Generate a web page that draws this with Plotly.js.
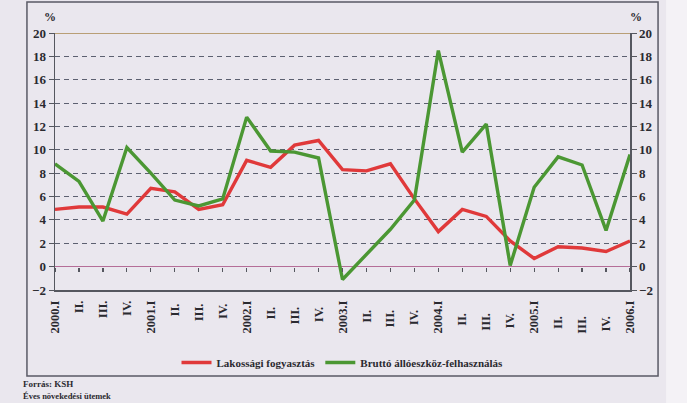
<!DOCTYPE html>
<html>
<head>
<meta charset="utf-8">
<script src="https://cdn.plot.ly/plotly-3.0.1.min.js"></script>
<style>html,body{margin:0;padding:0;background:#eae7ee;}#chart{width:687px;height:403px;}</style>
</head>
<body>
<div id="chart"></div>
<script>
const quarters = ["2000.I","II.","III.","IV.","2001.I","II. ","III. ","IV. ","2002.I","II.  ","III.  ","IV.  ","2003.I","II.   ","III.   ","IV.   ","2004.I","II.    ","III.    ","IV.    ","2005.I","II.     ","III.     ","IV.     ","2006.I"];
const lakossagi = [4.9,5.1,5.1,4.5,6.7,6.4,4.9,5.3,9.1,8.5,10.4,10.8,8.3,8.2,8.8,5.8,3.0,4.9,4.3,2.2,0.7,1.7,1.6,1.3,2.2];
const brutto = [8.8,7.3,3.9,10.2,8.0,5.7,5.2,5.8,12.8,9.9,9.8,9.3,-1.1,1.0,3.2,5.7,18.5,9.8,12.2,0.1,6.8,9.4,8.7,3.1,9.6];
const seriesNames = ["Lakossági fogyasztás","Bruttó állóeszköz-felhasználás"];
const yTicks = [-2,0,2,4,6,8,10,12,14,16,18,20];

const serif = "Liberation Serif, Times New Roman, serif";
const ink = "#2a2a30";
const idx = quarters.map((q,i)=>i);

const traces = [
  {x: idx, y: lakossagi, type:"scatter", mode:"lines", name: seriesNames[0],
   line:{color:"#e0393a", width:3.4}},
  {x: idx, y: brutto, type:"scatter", mode:"lines", name: seriesNames[1],
   line:{color:"#4b9733", width:3.4}},
  {x: idx, y: lakossagi, type:"scatter", mode:"lines", xaxis:"x2", yaxis:"y2",
   showlegend:false, hoverinfo:"skip", line:{width:0, color:"rgba(0,0,0,0)"}}
];

const W = 574, H = 257, L = 55, T = 33;
const px = v => (v - L)/W;
const py = v => (T + H - v)/H;

const layout = {
  width: 687, height: 403,
  margin: {l: L, r: 687-630, t: T, b: 403-290},
  paper_bgcolor: "#eae7ee",
  plot_bgcolor: "#eae7ee",
  font: {family: serif, size: 12, color: ink, weight: "bold"},
  showlegend: true,
  legend: {orientation: "h", x: 0.5, xanchor: "center", y: py(348), yanchor: "top",
           font: {family: serif, size: 11, color: ink, weight: "bold"},
           bgcolor: "rgba(0,0,0,0)", itemwidth: 30, tracegroupgap: 0},
  xaxis: {range: [0, 24], tickmode: "array", tickvals: idx, ticktext: quarters,
          tickangle: -90, ticks: "", showgrid: false, zeroline: false,
          ticklabelstandoff: 4,
          showline: true, linecolor: "#55575f", linewidth: 1.5,
          tickfont: {family: serif, size: 12.5, color: ink, weight: "bold"}},
  xaxis2: {range: [0, 24], overlaying: "x", anchor: "free", position: 2/22,
           tickmode: "array", tickvals: idx, ticks: "outside", ticklen: 4,
           tickcolor: "#55575f", tickwidth: 1.2,
           showticklabels: false, showgrid: false, zeroline: false, showline: false},
  yaxis: {range: [-2, 20], tickmode: "array", tickvals: yTicks,
          ticks: "outside", ticklen: 5, tickcolor: "#55575f",
          showgrid: true, gridcolor: "#5c6070", griddash: "5px,4px", gridwidth: 1,
          zeroline: true, zerolinecolor: "#b56e98", zerolinewidth: 1.5,
          showline: true, linecolor: "#55575f", linewidth: 1.5,
          tickfont: {family: serif, size: 13, color: ink, weight: "bold"}},
  yaxis2: {range: [-2, 20], overlaying: "y", side: "right", anchor: "x",
           tickmode: "array", tickvals: yTicks,
           ticks: "outside", ticklen: 5, tickcolor: "#55575f",
           showgrid: false, zeroline: false,
           showline: true, linecolor: "#55575f", linewidth: 1.5,
           tickfont: {family: serif, size: 13, color: ink, weight: "bold"}},
  shapes: [
    {type: "rect", xref: "paper", yref: "paper", x0: px(665), x1: px(700), y0: py(420), y1: py(-10),
     fillcolor: "#f4f2f6", line: {width: 0}, layer: "below"},
    {type: "rect", xref: "paper", yref: "paper", x0: px(27), x1: px(657), y0: py(376), y1: py(2),
     fillcolor: "rgba(0,0,0,0)", line: {color: "#5a5a66", width: 1.5}, layer: "below"},
    {type: "line", xref: "paper", yref: "y", x0: 0, x1: 1, y0: 20, y1: 20,
     line: {color: "#a8874e", width: 1.5}}
  ],
  annotations: [
    {text: "%", xref: "paper", yref: "paper", x: px(42), y: py(17), yanchor: "middle", showarrow: false,
     font: {family: serif, size: 12, color: ink, weight: "bold"}},
    {text: "%", xref: "paper", yref: "paper", x: px(643), y: py(17), yanchor: "middle", showarrow: false,
     font: {family: serif, size: 12, color: ink, weight: "bold"}},
    {text: "Forrás: KSH", xref: "paper", yref: "paper", x: px(21), y: py(384),
     xanchor: "left", yanchor: "middle", showarrow: false,
     font: {family: serif, size: 9, color: ink, weight: "bold"}},
    {text: "Éves növekedési ütemek", xref: "paper", yref: "paper", x: px(21), y: py(396),
     xanchor: "left", yanchor: "middle", showarrow: false,
     font: {family: serif, size: 8.5, color: ink, weight: "bold"}}
  ]
};

Plotly.newPlot("chart", traces, layout, {displayModeBar: false, staticPlot: true});
</script>
</body>
</html>
